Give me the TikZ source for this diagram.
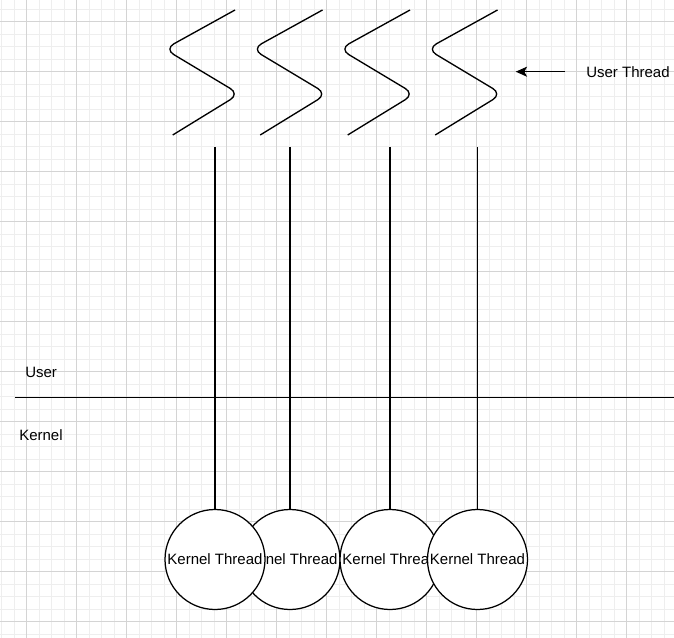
\documentclass[tikz,border=0pt]{standalone}
\usepackage{fontspec}
\setmainfont{Liberation Sans}
\usetikzlibrary{arrows.meta}
\definecolor{gridminor}{RGB}{238,238,238}
\definecolor{gridmajor}{RGB}{212,212,212}
\tikzset{
  kthread/.style={circle, draw, fill=white, minimum size=75pt, inner sep=0pt,
    line width=0.94pt, font=\fontsize{11.25pt}{13pt}\selectfont},
  conn/.style={line width=1pt},
  lbl/.style={inner sep=0pt, anchor=west, font=\fontsize{11.25pt}{13pt}\selectfont},
  zig/.style={line width=1pt, rounded corners=8pt},
  gminor/.style={gridminor, line width=0.75pt},
  gmajor/.style={gridmajor, line width=0.75pt}
}
\begin{document}
\begin{tikzpicture}[x=0.75pt,y=-0.75pt]
\useasboundingbox (0,0) rectangle (674,638);
\fill[white] (0,0) rectangle (674,638);
% grid
\foreach \i in {0,...,53} \draw[gminor] ({1.7+12.5*\i},0) -- ++(0,638);
\foreach \i in {0,...,50} \draw[gminor] (0,{9.2+12.5*\i}) -- ++(674,0);
\foreach \i in {0,...,12} \draw[gmajor] ({26.7+50*\i},0) -- ++(0,638);
\foreach \i in {0,...,12} \draw[gmajor] (0,{21.7+50*\i}) -- ++(674,0);
% user threads (zigzags)
\foreach \i in {0,...,3}
  \draw[zig, xshift={87.5*0.75pt*\i}] (235,10) -- (164.5,49) -- (239.5,94) -- (172.7,135);
% arrow and label
\node[lbl] (ut) at (586,71.7) {User Thread};
\coordinate (ae) at (515.7,71.7);
\draw[conn, -{Stealth[length=8.5pt,width=7.5pt,inset=2pt]}, shorten <=15.75pt] (ut.west) -- (ae);
% user/kernel boundary
\coordinate (hl) at (15,397.3);
\coordinate (hr) at (674,397.3);
\draw[conn] (hl) -- (hr);
\node[lbl] (user) at (25,372.3) {User};
\node[lbl] (kernel) at (19,435) {Kernel};
% kernel threads
\node[kthread] (k2) at (290,559.5) {Kernel Thread};
\node[kthread] (k1) at (215,559.5) {Kernel Thread};
\node[kthread] (k3) at (390,559.5) {Kernel Thread};
\node[kthread] (k4) at (477.5,559.5) {Kernel Thread};
% connectors
\coordinate (t1) at (215,147.3);
\coordinate (t2) at (290,147.3);
\coordinate (t3) at (390,147.3);
\coordinate (t4) at (477.5,147.3);
\draw[conn] (t1) -- (k1.north);
\draw[conn] (t2) -- (k2.north);
\draw[conn] (t3) -- (k3.north);
\draw[conn] (t4) -- (k4.north);
\end{tikzpicture}
\end{document}
